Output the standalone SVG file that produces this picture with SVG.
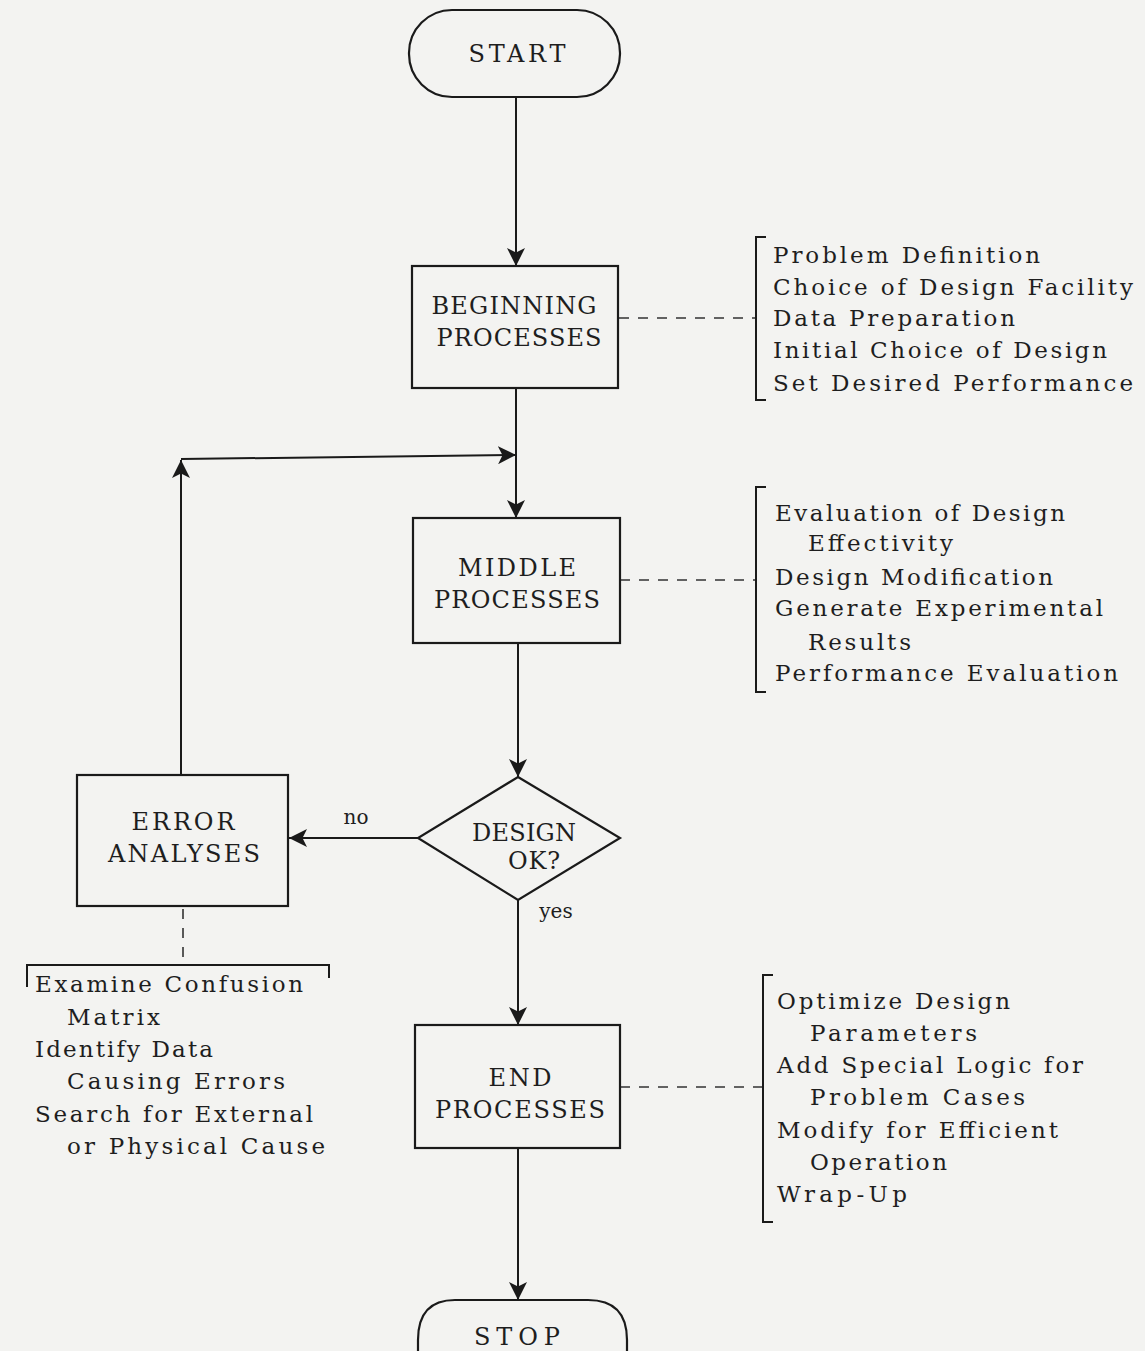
<svg xmlns="http://www.w3.org/2000/svg" width="1145" height="1351" viewBox="0 0 1145 1351">
<defs>
<style>
.bg{fill:#f3f3f1}
.shape{fill:none;stroke:#1a1a1a;stroke-width:2.2}
.line{fill:none;stroke:#1a1a1a;stroke-width:2}
.dash{fill:none;stroke:#333;stroke-width:1.6;stroke-dasharray:10 9}
.brk{fill:none;stroke:#1a1a1a;stroke-width:2}
.lbl{font-family:"DejaVu Serif","Liberation Serif",serif;font-size:24px;fill:#1e1e1e;text-anchor:middle}
.lst{font-family:"DejaVu Serif","Liberation Serif",serif;font-size:23px;fill:#1e1e1e}
.sm{font-family:"DejaVu Serif","Liberation Serif",serif;font-size:20px;fill:#1e1e1e;text-anchor:middle}
</style>
<marker id="arr" viewBox="0 0 10 10" refX="10" refY="5" markerWidth="18" markerHeight="18" markerUnits="userSpaceOnUse" orient="auto">
<path d="M0,0 L10,5 L0,10 L2.5,5 z" fill="#1a1a1a"/>
</marker>
</defs>
<rect class="bg" x="0" y="0" width="1145" height="1351"/>

<g id="connectors">
<path class="line" d="M516,97 L516,266" marker-end="url(#arr)"/>
<path class="line" d="M516,388 L516,518" marker-end="url(#arr)"/>
<path class="line" d="M518,643 L518,777" marker-end="url(#arr)"/>
<path class="line" d="M518,900 L518,1025" marker-end="url(#arr)"/>
<path class="line" d="M418,838 L289,838" marker-end="url(#arr)"/>
<path class="line" d="M181,775 L181,460" marker-end="url(#arr)"/>
<path class="line" d="M181,459 L516,455" marker-end="url(#arr)"/>
<path class="line" d="M518,1148 L518,1300" marker-end="url(#arr)"/>
<path class="dash" d="M619,318 L756,318"/>
<path class="dash" d="M620,580 L756,580"/>
<path class="dash" d="M620,1087 L763,1087"/>
<path class="dash" d="M183,909 L183,965"/>
<text class="sm" x="356" y="824">no</text>
<text class="sm" x="556" y="918">yes</text>
</g>

<g id="start">
<rect class="shape" x="409" y="10" width="211" height="87" rx="43" ry="43"/>
<text class="lbl" x="517" y="62" textLength="97" lengthAdjust="spacing">START</text>
</g>

<g id="beginning">
<rect class="shape" x="412" y="266" width="206" height="122"/>
<text class="lbl" x="514" y="314" textLength="165" lengthAdjust="spacing">BEGINNING</text>
<text class="lbl" x="519" y="346" textLength="165" lengthAdjust="spacing">PROCESSES</text>
</g>

<g id="beginning-notes">
<path class="brk" d="M766,237 L756,237 L756,400 L766,400"/>
<text class="lst" x="773" y="263" textLength="267" lengthAdjust="spacing">Problem Definition</text>
<text class="lst" x="773" y="295" textLength="360" lengthAdjust="spacing">Choice of Design Facility</text>
<text class="lst" x="773" y="326" textLength="242" lengthAdjust="spacing">Data Preparation</text>
<text class="lst" x="773" y="358" textLength="334" lengthAdjust="spacing">Initial Choice of Design</text>
<text class="lst" x="773" y="391" textLength="360" lengthAdjust="spacing">Set Desired Performance</text>
</g>

<g id="middle">
<rect class="shape" x="413" y="518" width="207" height="125"/>
<text class="lbl" x="517" y="576" textLength="118" lengthAdjust="spacing">MIDDLE</text>
<text class="lbl" x="517" y="608" textLength="166" lengthAdjust="spacing">PROCESSES</text>
</g>

<g id="middle-notes">
<path class="brk" d="M766,487 L756,487 L756,692 L766,692"/>
<text class="lst" x="775" y="521" textLength="290" lengthAdjust="spacing">Evaluation of Design</text>
<text class="lst" x="808" y="551" textLength="145" lengthAdjust="spacing">Effectivity</text>
<text class="lst" x="775" y="585" textLength="278" lengthAdjust="spacing">Design Modification</text>
<text class="lst" x="775" y="616" textLength="328" lengthAdjust="spacing">Generate Experimental</text>
<text class="lst" x="808" y="650" textLength="103" lengthAdjust="spacing">Results</text>
<text class="lst" x="775" y="681" textLength="343" lengthAdjust="spacing">Performance Evaluation</text>
</g>

<g id="decision">
<path class="shape" d="M518,777 L620,838 L518,900 L418,838 z"/>
<text class="lbl" x="524" y="841" textLength="104" lengthAdjust="spacing">DESIGN</text>
<text class="lbl" x="534" y="869" textLength="52" lengthAdjust="spacing">OK?</text>
</g>

<g id="error">
<rect class="shape" x="77" y="775" width="211" height="131"/>
<text class="lbl" x="183" y="830" textLength="103" lengthAdjust="spacing">ERROR</text>
<text class="lbl" x="184" y="862" textLength="152" lengthAdjust="spacing">ANALYSES</text>
</g>

<g id="error-notes">
<path class="brk" d="M27,987 L27,965 L329,965 L329,978"/>
<text class="lst" x="35" y="992" textLength="268" lengthAdjust="spacing">Examine Confusion</text>
<text class="lst" x="67" y="1025" textLength="93" lengthAdjust="spacing">Matrix</text>
<text class="lst" x="35" y="1057" textLength="178" lengthAdjust="spacing">Identify Data</text>
<text class="lst" x="67" y="1089" textLength="218" lengthAdjust="spacing">Causing Errors</text>
<text class="lst" x="35" y="1122" textLength="278" lengthAdjust="spacing">Search for External</text>
<text class="lst" x="67" y="1154" textLength="258" lengthAdjust="spacing">or Physical Cause</text>
</g>

<g id="end">
<rect class="shape" x="415" y="1025" width="205" height="123"/>
<text class="lbl" x="520" y="1086" textLength="63" lengthAdjust="spacing">END</text>
<text class="lbl" x="520" y="1118" textLength="170" lengthAdjust="spacing">PROCESSES</text>
</g>

<g id="end-notes">
<path class="brk" d="M773,975 L763,975 L763,1222 L773,1222"/>
<text class="lst" x="777" y="1009" textLength="233" lengthAdjust="spacing">Optimize Design</text>
<text class="lst" x="810" y="1041" textLength="167" lengthAdjust="spacing">Parameters</text>
<text class="lst" x="777" y="1073" textLength="306" lengthAdjust="spacing">Add Special Logic for</text>
<text class="lst" x="810" y="1105" textLength="215" lengthAdjust="spacing">Problem Cases</text>
<text class="lst" x="777" y="1138" textLength="281" lengthAdjust="spacing">Modify for Efficient</text>
<text class="lst" x="810" y="1170" textLength="137" lengthAdjust="spacing">Operation</text>
<text class="lst" x="777" y="1202" textLength="130" lengthAdjust="spacing">Wrap-Up</text>
</g>

<g id="stop">
<path class="shape" d="M418,1351 L418,1340 Q418,1300 455,1300 L588,1300 Q627,1300 627,1340 L627,1351"/>
<text class="lbl" x="517" y="1345" textLength="86" lengthAdjust="spacing">STOP</text>
</g>
</svg>
